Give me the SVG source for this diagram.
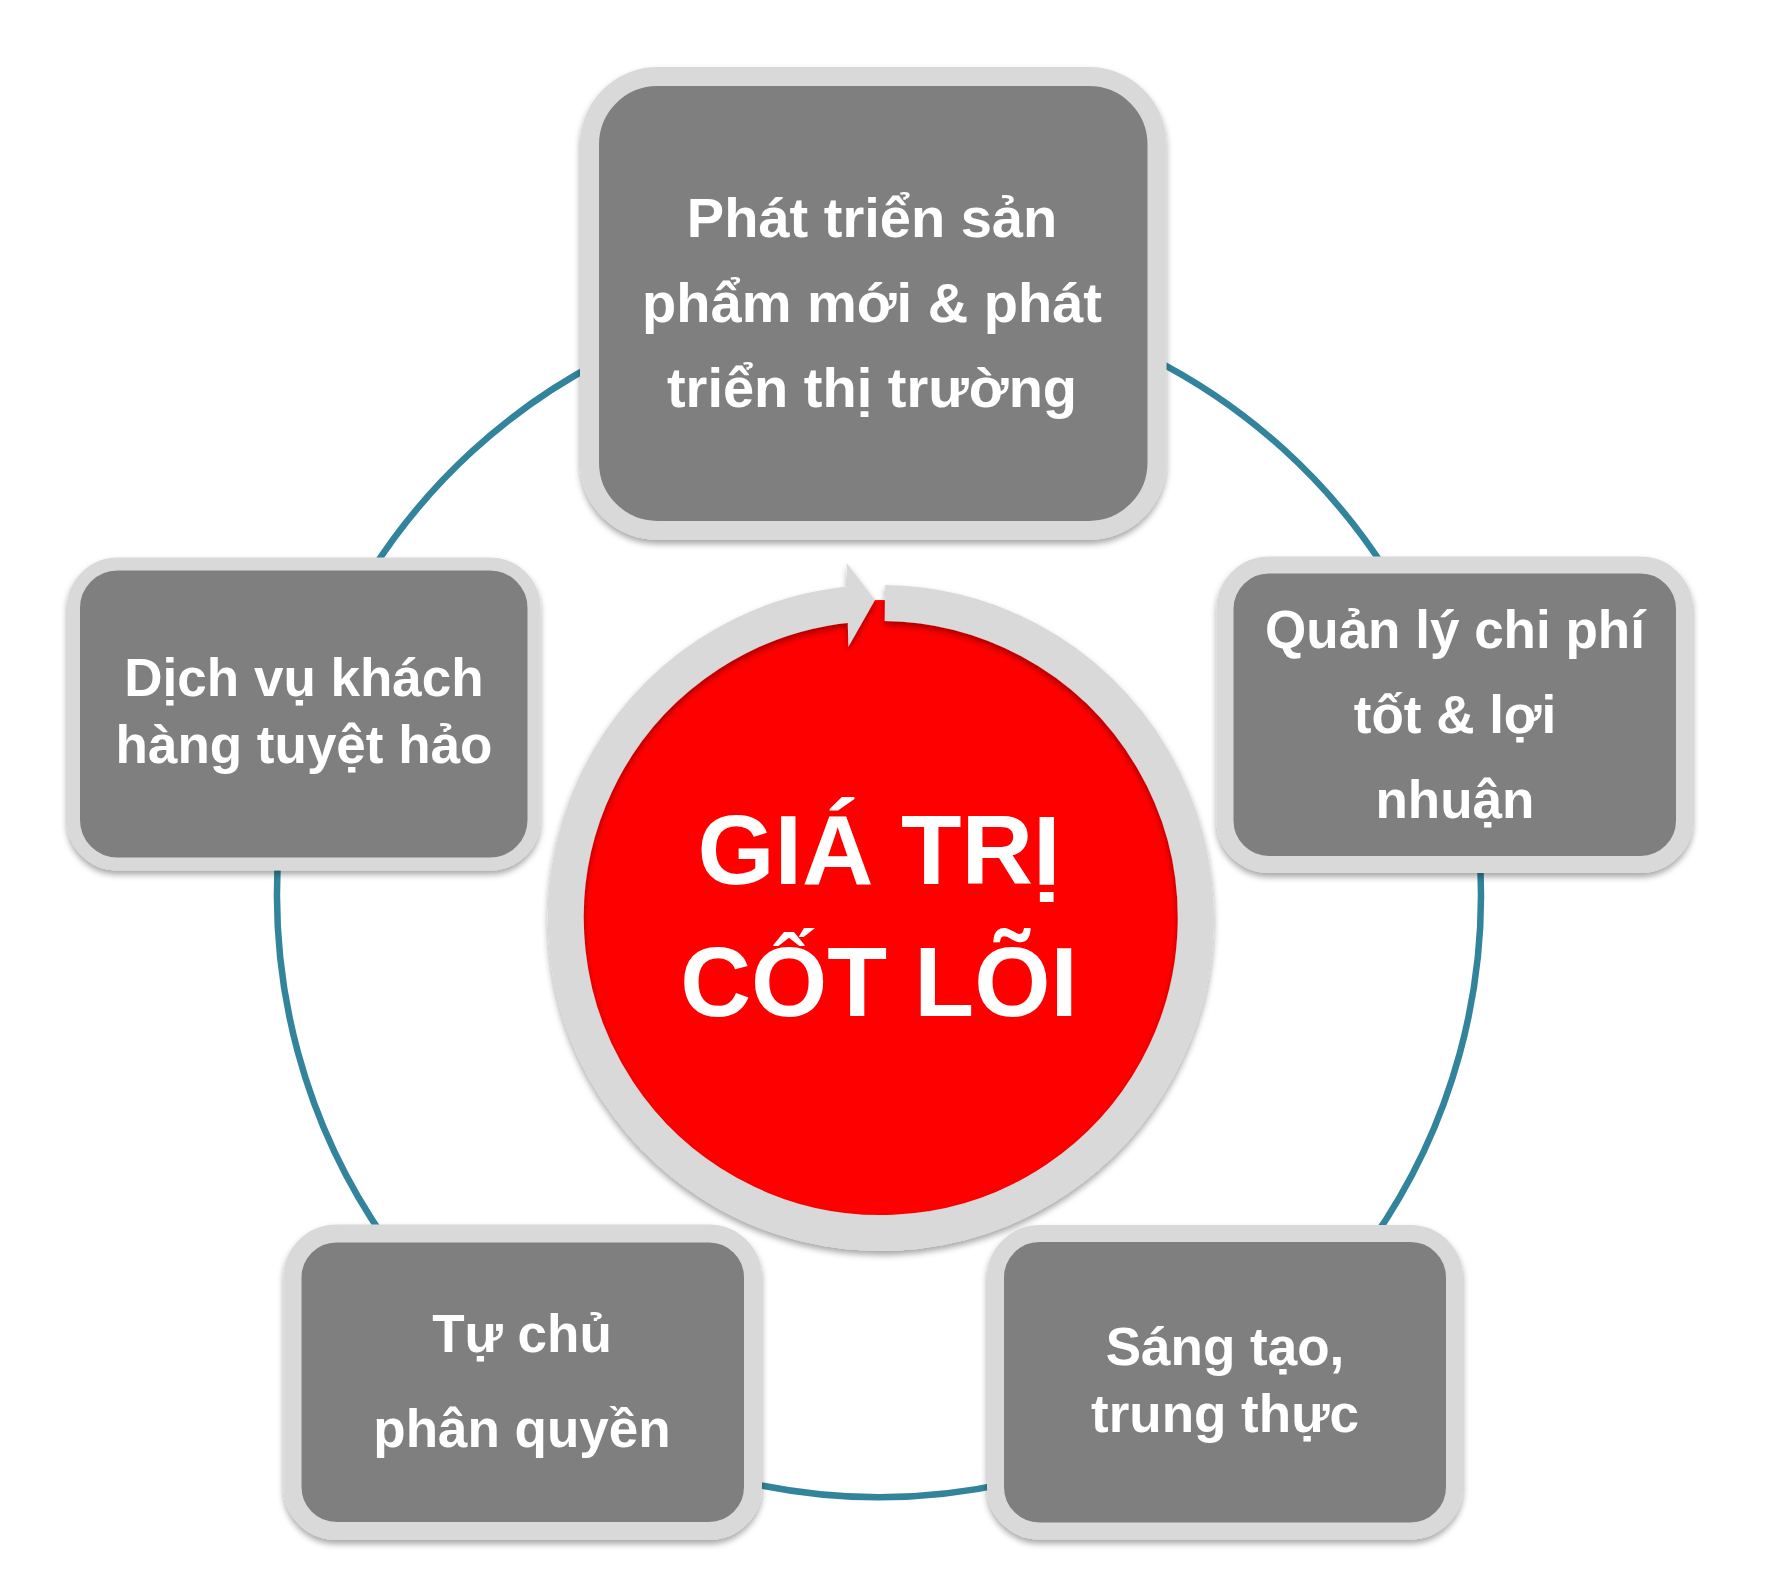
<svg xmlns="http://www.w3.org/2000/svg" width="1780" height="1596" viewBox="0 0 1780 1596">
<defs>
<filter id="sh" x="-10%" y="-10%" width="120%" height="125%">
<feDropShadow dx="0" dy="4" stdDeviation="3" flood-color="#000000" flood-opacity="0.35"/>
</filter>
</defs>
<style>
.box{fill:#7F7F7F;stroke:#D9D9D9;}
.lbl{font-family:"Liberation Sans",Arial,sans-serif;font-weight:bold;fill:#FFFFFF;text-anchor:middle;}
.conn{fill:none;stroke:#31849B;stroke-width:6.5;}
</style>
<rect width="1780" height="1596" fill="#FFFFFF"/>
<g id="connectors">
<path class="conn" d="M1152.3,358.6 A602,602 0 0 1 1385.6,569.8"/>
<path class="conn" d="M1479.2,848.8 A602,602 0 0 1 1371.5,1241.2"/>
<path class="conn" d="M1011.3,1482.3 A602,602 0 0 1 743.5,1481.6"/>
<path class="conn" d="M386.5,1241.2 A602,602 0 0 1 279.0,845.7"/>
<path class="conn" d="M371.8,570.6 A602,602 0 0 1 600.1,361.5"/>
</g>
<g id="core">
<circle cx="880" cy="918" r="318" fill="#FF0000"/>
<g filter="url(#sh)">
<path d="M884.9,603.0 A315,315 0 1 1 849.8,604.5" fill="none" stroke="#D9D9D9" stroke-width="36"/>
<polygon points="846.7,563 875,600 848.3,647" fill="#D9D9D9"/>
</g>
<text class="lbl" x="879" y="884" font-size="99">GIÁ TRỊ</text>
<text class="lbl" x="879" y="1016" font-size="98">CỐT LÕI</text>
</g>
<g id="node-top" filter="url(#sh)">
<rect class="box" x="589.5" y="76.5" width="567.5" height="454" rx="68" stroke-width="19"/>
<text class="lbl" x="872" y="237" font-size="56">Phát triển sản</text>
<text class="lbl" x="872" y="322" font-size="56">phẩm mới &amp; phát</text>
<text class="lbl" x="872" y="407" font-size="56">triển thị trường</text>
</g>
<g id="node-right" filter="url(#sh)">
<rect class="box" x="1225" y="565" width="459.5" height="299.5" rx="44" stroke-width="17"/>
<text class="lbl" x="1455" y="648" font-size="53">Quản lý chi phí</text>
<text class="lbl" x="1455" y="733" font-size="53">tốt &amp; lợi</text>
<text class="lbl" x="1455" y="818" font-size="53">nhuận</text>
</g>
<g id="node-bottom-right" filter="url(#sh)">
<rect class="box" x="995.5" y="1233.5" width="459" height="297.5" rx="44" stroke-width="17"/>
<text class="lbl" x="1225" y="1365" font-size="53">Sáng tạo,</text>
<text class="lbl" x="1225" y="1432" font-size="53">trung thực</text>
</g>
<g id="node-bottom-left" filter="url(#sh)">
<rect class="box" x="292.5" y="1233.5" width="460.5" height="297.5" rx="44" stroke-width="18"/>
<text class="lbl" x="522" y="1352" font-size="53">Tự chủ</text>
<text class="lbl" x="522" y="1447" font-size="53">phân quyền</text>
</g>
<g id="node-left" filter="url(#sh)">
<rect class="box" x="73.5" y="564" width="460.5" height="300" rx="44" stroke-width="13"/>
<text class="lbl" x="304" y="696" font-size="53">Dịch vụ khách</text>
<text class="lbl" x="304" y="763" font-size="53">hàng tuyệt hảo</text>
</g>
</svg>
